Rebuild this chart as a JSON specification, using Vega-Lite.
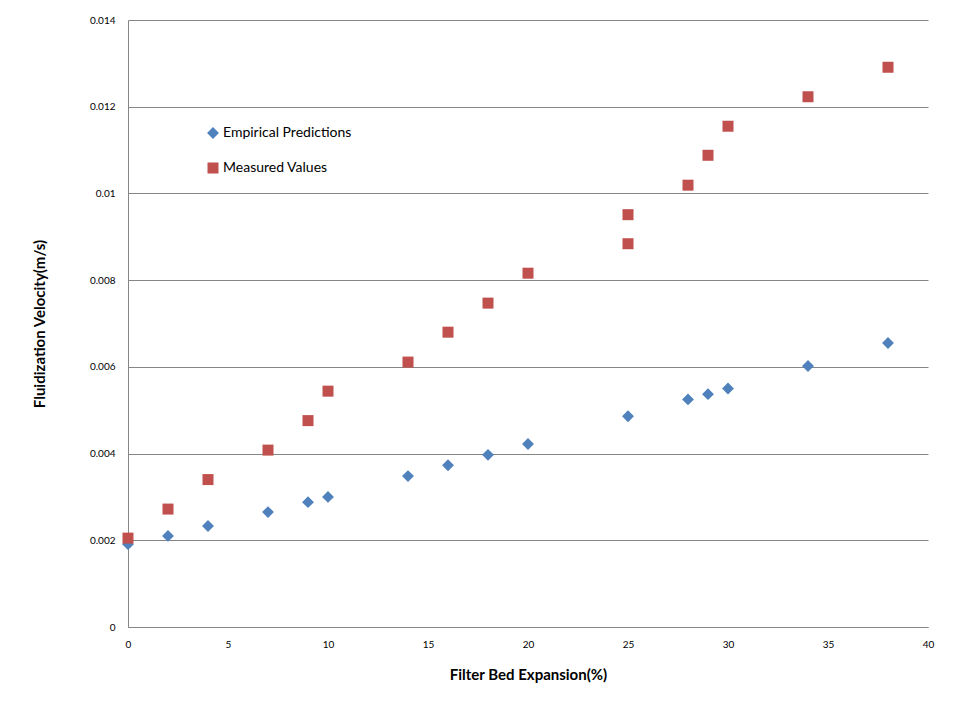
{
  "$schema": "https://vega.github.io/schema/vega-lite/v6.json",
  "width": 800,
  "height": 607,
  "autosize": {"type": "none"},
  "padding": {"left": 128, "top": 20, "right": 32, "bottom": 93},
  "background": "white",
  "config": {
    "view": {"stroke": null},
    "font": "Lato",
    "axis": {
      "labelFont": "Lato",
      "titleFont": "Lato",
      "labelColor": "#000000",
      "titleColor": "#000000",
      "domainColor": "#868686",
      "gridColor": "#868686",
      "ticks": false,
      "labelFlush": false,
      "labelFontSize": 10
    }
  },
  "data": {
    "values": [
      {"expansion": 0, "velocity": 0.00191, "series": "Empirical Predictions"},
      {"expansion": 2, "velocity": 0.00210, "series": "Empirical Predictions"},
      {"expansion": 4, "velocity": 0.00233, "series": "Empirical Predictions"},
      {"expansion": 7, "velocity": 0.00265, "series": "Empirical Predictions"},
      {"expansion": 9, "velocity": 0.00288, "series": "Empirical Predictions"},
      {"expansion": 10, "velocity": 0.00300, "series": "Empirical Predictions"},
      {"expansion": 14, "velocity": 0.00348, "series": "Empirical Predictions"},
      {"expansion": 16, "velocity": 0.00373, "series": "Empirical Predictions"},
      {"expansion": 18, "velocity": 0.00397, "series": "Empirical Predictions"},
      {"expansion": 20, "velocity": 0.00422, "series": "Empirical Predictions"},
      {"expansion": 25, "velocity": 0.00486, "series": "Empirical Predictions"},
      {"expansion": 28, "velocity": 0.00525, "series": "Empirical Predictions"},
      {"expansion": 29, "velocity": 0.00537, "series": "Empirical Predictions"},
      {"expansion": 30, "velocity": 0.00550, "series": "Empirical Predictions"},
      {"expansion": 34, "velocity": 0.00602, "series": "Empirical Predictions"},
      {"expansion": 38, "velocity": 0.00655, "series": "Empirical Predictions"},
      {"expansion": 0, "velocity": 0.00205, "series": "Measured Values"},
      {"expansion": 2, "velocity": 0.00272, "series": "Measured Values"},
      {"expansion": 4, "velocity": 0.00340, "series": "Measured Values"},
      {"expansion": 7, "velocity": 0.00408, "series": "Measured Values"},
      {"expansion": 9, "velocity": 0.00476, "series": "Measured Values"},
      {"expansion": 10, "velocity": 0.00544, "series": "Measured Values"},
      {"expansion": 14, "velocity": 0.00611, "series": "Measured Values"},
      {"expansion": 16, "velocity": 0.00680, "series": "Measured Values"},
      {"expansion": 18, "velocity": 0.00747, "series": "Measured Values"},
      {"expansion": 20, "velocity": 0.00816, "series": "Measured Values"},
      {"expansion": 25, "velocity": 0.00884, "series": "Measured Values"},
      {"expansion": 25, "velocity": 0.00951, "series": "Measured Values"},
      {"expansion": 28, "velocity": 0.01019, "series": "Measured Values"},
      {"expansion": 29, "velocity": 0.01088, "series": "Measured Values"},
      {"expansion": 30, "velocity": 0.01155, "series": "Measured Values"},
      {"expansion": 34, "velocity": 0.01223, "series": "Measured Values"},
      {"expansion": 38, "velocity": 0.01291, "series": "Measured Values"}
    ]
  },
  "mark": {"type": "point", "filled": true, "opacity": 1, "strokeWidth": 0},
  "encoding": {
    "x": {
      "field": "expansion",
      "type": "quantitative",
      "title": "Filter Bed Expansion(%)",
      "scale": {"domain": [0, 40], "nice": false},
      "axis": {
        "values": [0, 5, 10, 15, 20, 25, 30, 35, 40],
        "grid": false,
        "labelPadding": 12,
        "titleFontSize": 15,
        "titleFontWeight": "bold",
        "titlePadding": 18
      }
    },
    "y": {
      "field": "velocity",
      "type": "quantitative",
      "title": "Fluidization Velocity(m/s)",
      "scale": {"domain": [0, 0.014], "nice": false},
      "axis": {
        "values": [0, 0.002, 0.004, 0.006, 0.008, 0.01, 0.012, 0.014],
        "format": ".3~f",
        "grid": true,
        "labelPadding": 13,
        "titleFontSize": 15,
        "titleFontWeight": "bold",
        "titlePadding": 42
      }
    },
    "color": {
      "field": "series",
      "type": "nominal",
      "scale": {"domain": ["Empirical Predictions", "Measured Values"], "range": ["#4F81BD", "#C0504D"]},
      "legend": {
        "title": null,
        "orient": "none",
        "legendX": 78,
        "legendY": 106,
        "labelFontSize": 14,
        "labelFont": "Lato",
        "rowPadding": 21,
        "symbolSize": 120,
        "labelOffset": 3
      }
    },
    "shape": {
      "field": "series",
      "type": "nominal",
      "scale": {"domain": ["Empirical Predictions", "Measured Values"], "range": ["diamond", "square"]}
    },
    "size": {
      "field": "series",
      "type": "nominal",
      "scale": {"domain": ["Empirical Predictions", "Measured Values"], "range": [140, 121]},
      "legend": null
    }
  }
}
